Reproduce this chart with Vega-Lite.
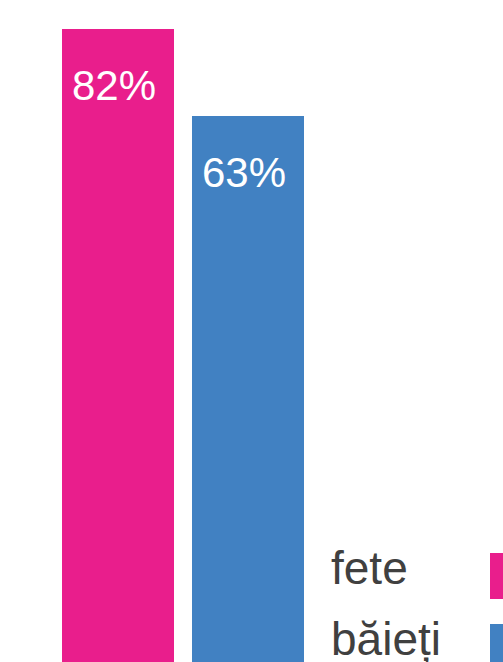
{
  "$schema": "https://vega.github.io/schema/vega-lite/v6.json",
  "width": 503,
  "height": 662,
  "padding": 0,
  "autosize": {"type": "none"},
  "background": "white",
  "config": {"view": {"stroke": null}, "font": "Liberation Sans"},
  "data": {"values": [
    {"gen": "fete", "pct": 82, "label": "82%"},
    {"gen": "băieți", "pct": 63, "label": "63%"}
  ]},
  "encoding": {
    "x": {"field": "gen", "type": "nominal", "sort": null, "axis": null,
      "scale": {"domain": ["fete", "băieți"], "range": [62, 304], "paddingInner": 0.13846, "paddingOuter": 0}}
  },
  "layer": [
    {
      "mark": {"type": "bar"},
      "encoding": {
        "y": {"field": "pct", "type": "quantitative", "axis": null,
          "scale": {"domain": [-56.24, 88.34], "nice": false, "zero": false}},
        "y2": {"datum": -56.24},
        "color": {"field": "gen", "type": "nominal", "sort": null,
          "scale": {"domain": ["fete", "băieți"], "range": ["#E91E8C", "#4181C2"]},
          "legend": {"title": null, "orient": "none", "legendX": 490, "legendY": 553,
            "direction": "vertical", "symbolType": "square", "symbolSize": 2116,
            "symbolStrokeWidth": 0, "labelFontSize": 46, "labelColor": "#404040",
            "labelOffset": -205, "labelAlign": "left", "rowPadding": 19, "padding": 0,
            "labelLimit": 0,
            "encoding": {"labels": {"dy": {"value": -6}}}}}
      }
    },
    {
      "mark": {"type": "text", "align": "center", "baseline": "alphabetic", "dy": 71, "dx": -4,
        "fontSize": 42, "color": "white"},
      "encoding": {
        "y": {"field": "pct", "type": "quantitative"},
        "text": {"field": "label"}
      }
    }
  ]
}
